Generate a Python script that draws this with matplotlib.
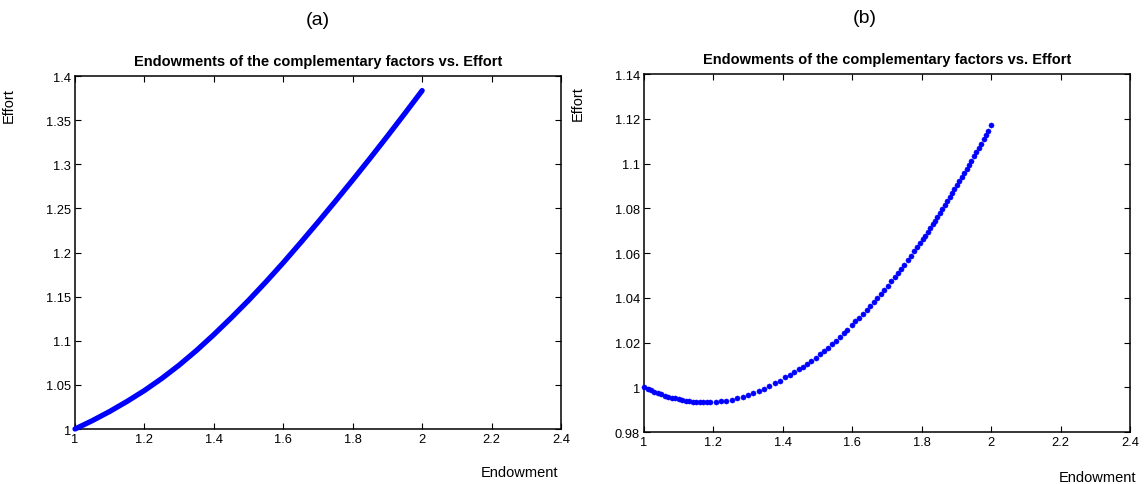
import matplotlib
matplotlib.use("Agg")
import matplotlib.pyplot as plt
from matplotlib.ticker import FuncFormatter

plt.rcParams['font.family'] = ['Liberation Sans', 'DejaVu Sans']

# (a) endowment vs effort
endow_a = [1.00, 1.05, 1.10, 1.15, 1.20, 1.25, 1.30, 1.35, 1.40, 1.45, 1.50,
           1.55, 1.60, 1.65, 1.70, 1.75, 1.80, 1.85, 1.90, 1.95, 2.00]
effort_a = [1.0000, 1.0095, 1.0199, 1.0313, 1.0436, 1.0573, 1.0724, 1.0890,
            1.1070, 1.1260, 1.1458, 1.1667, 1.1885, 1.2112, 1.2344, 1.2581,
            1.2822, 1.3068, 1.3319, 1.3575, 1.3835]

# (b) individual dots
endow_b = [1.00, 1.01, 1.02, 1.03, 1.04, 1.05, 1.06, 1.07, 1.08, 1.09, 1.10,
           1.11, 1.12, 1.13, 1.14, 1.15, 1.16, 1.17, 1.18,
           1.190, 1.206, 1.221, 1.237, 1.252, 1.268, 1.284, 1.299, 1.315,
           1.330, 1.346, 1.361, 1.377, 1.392, 1.407,
           1.420, 1.433, 1.446, 1.458, 1.470, 1.482, 1.494, 1.506, 1.518,
           1.529, 1.541, 1.552, 1.564, 1.575, 1.586, 1.598,
           1.609, 1.620, 1.630, 1.641, 1.651, 1.662, 1.672, 1.682, 1.692,
           1.702, 1.712, 1.722, 1.731, 1.741, 1.750, 1.760, 1.769, 1.778,
           1.787, 1.796,
           1.803, 1.810, 1.817, 1.824, 1.831, 1.838, 1.845, 1.852, 1.859,
           1.866, 1.873, 1.880, 1.887, 1.894, 1.901, 1.908, 1.915, 1.922,
           1.929, 1.936, 1.943, 1.950, 1.957, 1.964, 1.971, 1.978, 1.985,
           1.992, 2.000]
effort_b = [1.0000, 0.9993, 0.9986, 0.9980, 0.9974, 0.9968, 0.9963, 0.9958,
            0.9954, 0.9950, 0.9946, 0.9943, 0.9940, 0.9938, 0.9936, 0.9934,
            0.9933, 0.9932, 0.9932,
            0.9933, 0.9934, 0.9937, 0.9940, 0.9945, 0.9951, 0.9957, 0.9964,
            0.9973, 0.9982, 0.9993, 1.0004, 1.0017, 1.0030, 1.0044,
            1.0055, 1.0067, 1.0080, 1.0092, 1.0105, 1.0119, 1.0133, 1.0147,
            1.0162, 1.0177, 1.0193, 1.0208, 1.0225, 1.0242, 1.0258, 1.0277,
            1.0294, 1.0311, 1.0327, 1.0345, 1.0362, 1.0381, 1.0399, 1.0417,
            1.0435, 1.0454, 1.0473, 1.0492, 1.0510, 1.0530, 1.0548, 1.0569,
            1.0588, 1.0607, 1.0626, 1.0646,
            1.0662, 1.0678, 1.0695, 1.0712, 1.0728, 1.0745, 1.0762, 1.0779,
            1.0797, 1.0814, 1.0831, 1.0849, 1.0867, 1.0885, 1.0903, 1.0921,
            1.0939, 1.0957, 1.0976, 1.0994, 1.1013, 1.1032, 1.1051, 1.1070,
            1.1089, 1.1108, 1.1128, 1.1147, 1.1170]

x_ticks = [1, 1.2, 1.4, 1.6, 1.8, 2, 2.2, 2.4]
y_ticks_a = [1, 1.05, 1.1, 1.15, 1.2, 1.25, 1.3, 1.35, 1.4]
y_ticks_b = [0.98, 1, 1.02, 1.04, 1.06, 1.08, 1.1, 1.12, 1.14]

title = "Endowments of the complementary factors vs. Effort"
blue = '#0000ff'

fig = plt.figure(figsize=(11.47, 4.85), dpi=100)
ax_a = fig.add_axes([0.0654, 0.1134, 0.4237, 0.7278])
ax_b = fig.add_axes([0.5615, 0.1072, 0.4237, 0.7381])

# (a) is so densely sampled it reads as one thick line
ax_a.plot(endow_a, effort_a, color=blue, lw=3.8, solid_capstyle='round',
          solid_joinstyle='round', clip_on=False, zorder=3)
ax_b.plot(endow_b, effort_b, ls='none', color=blue, marker='o', ms=3.7,
          mew=0.3, clip_on=False, zorder=3)

fmt = FuncFormatter(lambda v, p: '%g' % round(v, 4))
for ax, yt in [(ax_a, y_ticks_a), (ax_b, y_ticks_b)]:
    ax.set_xlim(1, 2.4)
    ax.set_ylim(yt[0], yt[-1])
    ax.set_xticks(x_ticks)
    ax.set_yticks(yt)
    ax.xaxis.set_major_formatter(fmt)
    ax.yaxis.set_major_formatter(fmt)
    ax.tick_params(direction='in', length=4, width=0.8, labelsize=9.3,
                   top=True, right=True, pad=3)
    for s in ax.spines.values():
        s.set_linewidth(1.1)
    ax.set_title(title, fontsize=10.5, fontweight='bold', pad=8)
    ax.set_ylabel('Effort', fontsize=10.5)
    ax.set_xlabel('Endowment', fontsize=10.5)

ax_a.yaxis.set_label_coords(-0.121, 0.92)
ax_a.xaxis.set_label_coords(0.914, -0.102)
ax_b.yaxis.set_label_coords(-0.121, 0.92)
ax_b.xaxis.set_label_coords(0.933, -0.105)

fig.text(0.2775, 0.958, '(a)', fontsize=14, ha='center', va='center')
fig.text(0.754, 0.962, '(b)', fontsize=14, ha='center', va='center')

fig.savefig('out.png', dpi=100)
